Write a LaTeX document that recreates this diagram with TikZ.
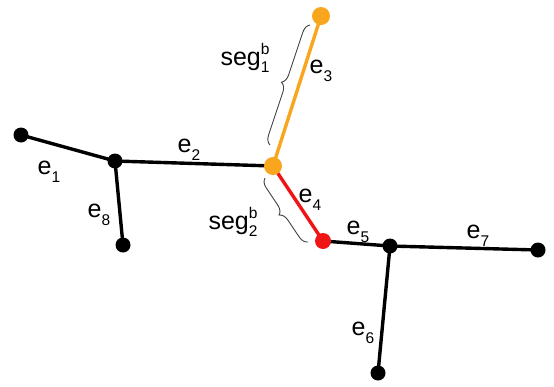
\documentclass[tikz,border=0pt]{standalone}
\usepackage{fontspec}
\setmainfont{Liberation Sans}
\usetikzlibrary{decorations.pathreplacing}
\definecolor{orng}{RGB}{247,166,30}
\definecolor{rd}{RGB}{240,20,20}
\newcommand{\lbsub}[1]{\raisebox{-0.3em}{\fontsize{15.5}{15.5}\selectfont #1}}
\newcommand{\lbsubsup}[2]{\rlap{\raisebox{0.45em}{\fontsize{15.5}{15.5}\selectfont #2}}\raisebox{-0.3em}{\fontsize{15.5}{15.5}\selectfont #1}}
\begin{document}
\begin{tikzpicture}[x=1pt,y=-1pt,
  edge/.style={line width=3.4pt},
  bdot/.style={circle,fill=black,inner sep=0pt,minimum size=15pt},
  odot/.style={circle,fill=orng,inner sep=0pt,minimum size=18pt},
  rdot/.style={circle,fill=rd,inner sep=0pt,minimum size=16pt},
  lbl/.style={font=\fontsize{25}{29}\selectfont,inner sep=0pt},
  brc/.style={decorate,decoration={brace,amplitude=9pt},draw=black!75,line width=0.9pt}]
\useasboundingbox (0,0) rectangle (554,386);
\coordinate (A) at (21,135);
\coordinate (B) at (115,161);
\coordinate (C) at (123,245);
\coordinate (D) at (273,166);
\coordinate (E) at (321,16);
\coordinate (F) at (323,241);
\coordinate (G) at (390,246);
\coordinate (H) at (538,250);
\coordinate (I) at (378,373);
\draw[edge] (A) -- (B);
\draw[edge] (B) -- (C);
\draw[edge] (B) -- (D);
\draw[edge,orng] (D) -- (E);
\draw[edge,rd] (D) -- (F);
\draw[edge] (F) -- (G);
\draw[edge] (G) -- (H);
\draw[edge] (G) -- (I);
\node[bdot] (nA) at (A) {};
\node[bdot] (nB) at (B) {};
\node[bdot] (nC) at (C) {};
\node[odot] (nD) at (D) {};
\node[odot] (nE) at (E) {};
\node[rdot] (nF) at (F) {};
\node[bdot] (nG) at (G) {};
\node[bdot] (nH) at (H) {};
\node[bdot] (nI) at (I) {};
\coordinate (b1s) at (270,145);
\coordinate (b1e) at (310,25);
\coordinate (b2s) at (308,242);
\coordinate (b2e) at (265,178);
\draw[brc] (b1s) -- (b1e);
\draw[brc] (b2s) -- (b2e);
\node[lbl] (l1) at (49,172) {e\lbsub{1}};
\node[lbl] (l2) at (189,150) {e\lbsub{2}};
\node[lbl] (l3) at (321,71) {e\lbsub{3}};
\node[lbl] (l4) at (310,200) {e\lbsub{4}};
\node[lbl] (l5) at (358,232) {e\lbsub{5}};
\node[lbl] (l6) at (363,333) {e\lbsub{6}};
\node[lbl] (l7) at (478,236) {e\lbsub{7}};
\node[lbl] (l8) at (99,215) {e\lbsub{8}};
\node[lbl] (s1) at (252,58) {seg\lbsubsup{1}{b}\phantom{b}};
\node[lbl] (s2) at (240,222) {seg\lbsubsup{2}{b}\phantom{b}};
\end{tikzpicture}
\end{document}
